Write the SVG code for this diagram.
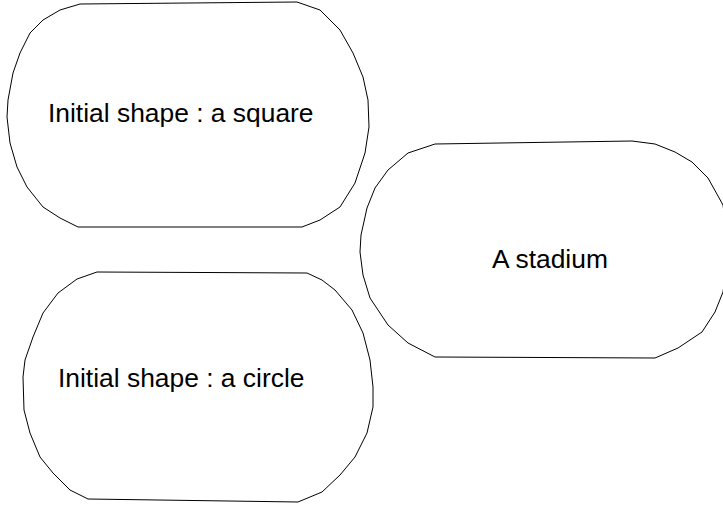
<svg xmlns="http://www.w3.org/2000/svg" width="723" height="508" viewBox="0 0 723 508">
<style>
.shape{fill:#fff;stroke:#000;stroke-width:1;stroke-linejoin:round}
.lbl{font-family:"Liberation Sans",Arial,sans-serif;font-size:26.4px;fill:#000}
</style>
<rect width="723" height="508" fill="#fff"/>
<g id="connectors"/>
<g id="square">
<polygon class="shape" points="80,4 60,10 43,20 30,33 20,53 13,73 8,100 7,117 10,143 17,167 27,187 43,207 60,218 78,227 302,227 320,220 340,207 355,183 365,153 369,127 368,100 363,77 353,53 340,30 320,10 297,2"/>
<text class="lbl" x="48" y="122">Initial shape : a square</text>
</g>
<g id="stadium">
<polygon class="shape" points="435,144 408,153 388,170 375,188 367,208 361,235 360,252 363,275 370,298 388,325 408,343 435,357 655,358 678,348 702,332 715,312 723,292 729,250 723,205 708,178 692,162 675,152 655,144 632,141"/>
<text class="lbl" x="492" y="268">A stadium</text>
</g>
<g id="circle">
<polygon class="shape" points="97,272 77,279 58,293 43,313 33,337 25,360 23,377 24,410 30,433 40,457 53,473 70,490 88,499 298,502 322,492 340,475 355,457 367,433 373,407 373,387 370,360 363,333 352,310 335,290 322,280 307,273"/>
<text class="lbl" x="58" y="387">Initial shape : a circle</text>
</g>
</svg>
